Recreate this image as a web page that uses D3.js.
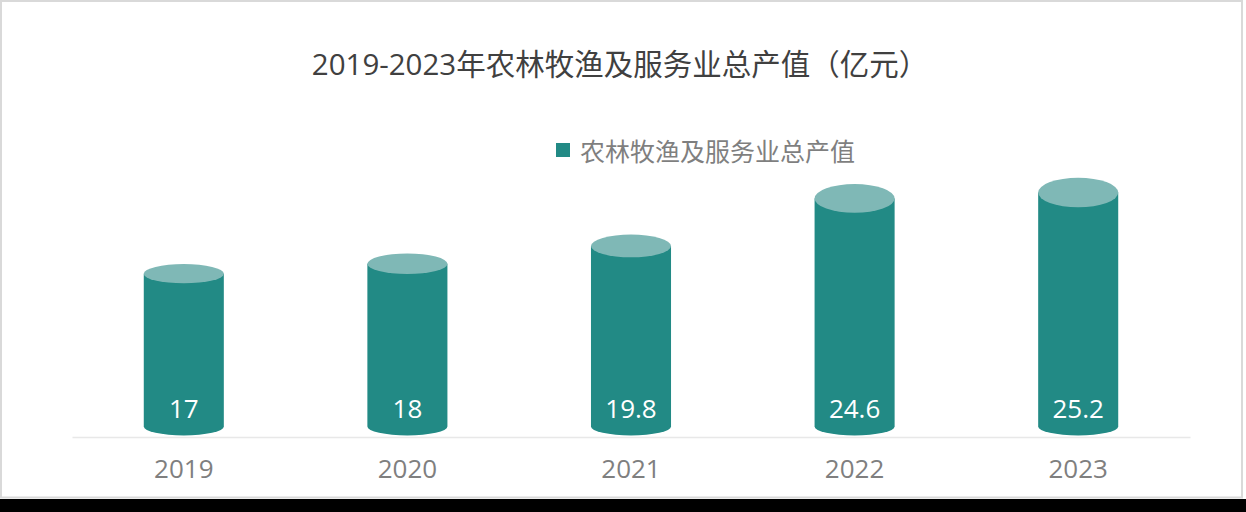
<!DOCTYPE html>
<html>
<head>
<meta charset="utf-8">
<script src="https://cdn.jsdelivr.net/npm/d3@7"></script>
<style>
  html, body { margin: 0; padding: 0; background: #000; }
  svg { display: block; }
  text { font-family: "Open Sans", "Noto Sans CJK SC", sans-serif; }
</style>
</head>
<body>
<svg id="chart" width="1246" height="512"></svg>
<script>
// данные
const years = ["2019", "2020", "2021", "2022", "2023"];
const values = [17, 18, 19.8, 24.6, 25.2];
const seriesName = "农林牧渔及服务业总产值";
const titleText = "2019-2023年农林牧渔及服务业总产值（亿元）";

const colorBody = "#228a85";
const colorTop = "#7fb8b6";

const svg = d3.select("#chart");
const attr_area = {
    width: parseFloat(svg.attr("width")),
    height: parseFloat(svg.attr("height")),
    left: 72,
    right: 1190,
    axisY: 437,
    baseCy: 426.5,
    baseRy: 9
};

// фон и рамка
svg.append("rect")
    .attr("x", 0).attr("y", 0)
    .attr("width", attr_area.width).attr("height", attr_area.height)
    .style("fill", "#000");
svg.append("rect")
    .attr("x", 0).attr("y", 0)
    .attr("width", 1246).attr("height", 499)
    .style("fill", "#fff");
svg.append("rect")
    .attr("x", 1).attr("y", 1)
    .attr("width", 1241).attr("height", 496.5)
    .style("fill", "none")
    .style("stroke", "#d9d9d9")
    .style("stroke-width", 2);

// заголовок
svg.append("text")
    .attr("x", 620)
    .attr("y", 75)
    .attr("text-anchor", "middle")
    .style("font-size", "29.5px")
    .style("fill", "#404040")
    .text(titleText);

// легенда
svg.append("rect")
    .attr("x", 556).attr("y", 143)
    .attr("width", 14).attr("height", 14)
    .style("fill", colorBody);
svg.append("text")
    .attr("x", 580)
    .attr("y", 161)
    .style("font-size", "25px")
    .style("fill", "#7f7f7f")
    .text(seriesName);

// шкалы
const scaleX = d3.scaleBand()
    .domain(years)
    .range([attr_area.left, attr_area.right])
    .paddingInner(0.642)
    .paddingOuter(0.321);

const scaleY = d3.scaleLinear()
    .domain([0, 30])
    .range([442, 145]);

// ось X
const axisX = d3.axisBottom(scaleX).tickSize(0).tickSizeOuter(0);
const gx = svg.append("g")
    .attr("transform", `translate(0, ${attr_area.axisY})`)
    .call(axisX);
gx.select(".domain")
    .attr("stroke", "#e8e8e8")
    .attr("stroke-width", 1.5);
gx.selectAll("text")
    .attr("y", 41)
    .attr("dy", 0)
    .style("font-size", "26px")
    .style("font-family", "'Open Sans', sans-serif")
    .style("fill", "#7f7f7f");

// цилиндры
years.forEach((yr, i) => {
    const v = values[i];
    const rx = scaleX.bandwidth() / 2;
    const cx = scaleX(yr) + rx;
    const x0 = cx - rx, x1 = cx + rx;
    const topY = scaleY(v);
    const topRy = 0.063 * (attr_area.baseCy - topY);
    const b = attr_area.baseCy, br = attr_area.baseRy;

    svg.append("path")
        .attr("d", `M${x0},${topY} L${x0},${b} A${rx},${br} 0 0 0 ${x1},${b} L${x1},${topY} Z`)
        .style("fill", colorBody);

    svg.append("ellipse")
        .attr("cx", cx)
        .attr("cy", topY)
        .attr("rx", rx)
        .attr("ry", topRy)
        .style("fill", colorTop);

    svg.append("text")
        .attr("x", cx)
        .attr("y", 418)
        .attr("text-anchor", "middle")
        .style("font-size", "26px")
        .style("fill", "#fff")
        .text(v);
});
</script>
</body>
</html>
